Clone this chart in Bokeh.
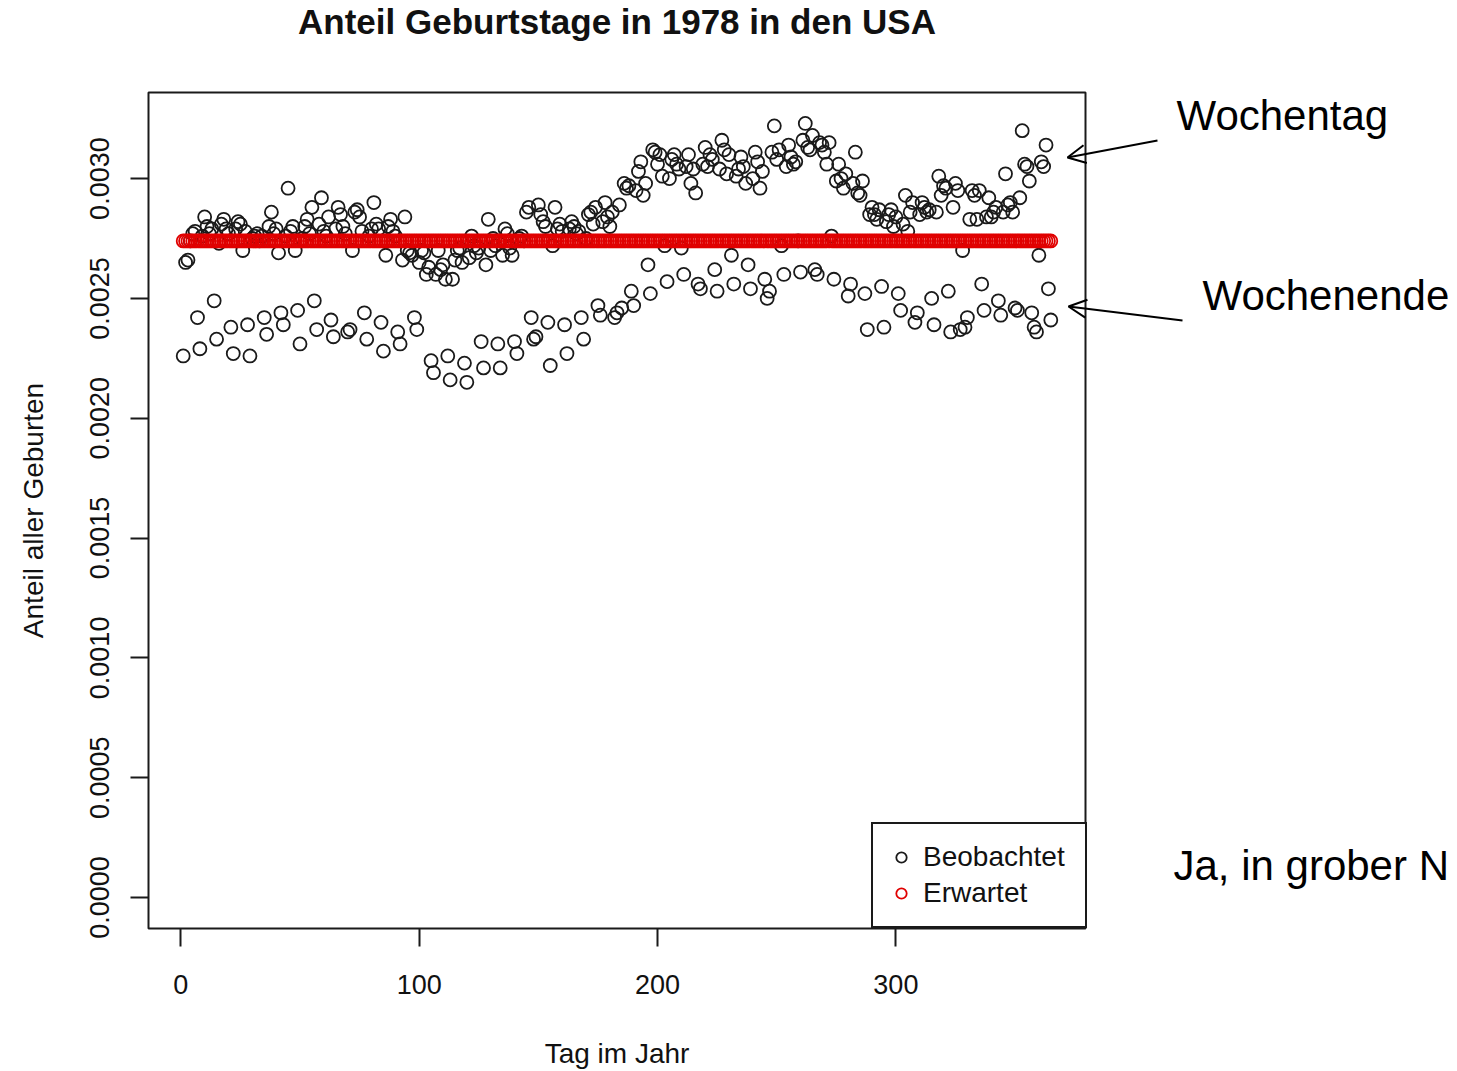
import math
from bokeh.plotting import figure
from bokeh.models import (FixedTicker, PrintfTickFormatter, Range1d, Legend,
                          LegendItem, Label, Arrow, OpenHead, ColumnDataSource,
                          BoxAnnotation)
from bokeh.embed import file_html
from bokeh.resources import INLINE

# ---------------- data ----------------
title_text = "Anteil Geburtstage in 1978 in den USA"
x_label = "Tag im Jahr"
y_label = "Anteil aller Geburten"
x_ticks = [0, 100, 200, 300]
y_ticks = [0.0, 0.0005, 0.0010, 0.0015, 0.0020, 0.0025, 0.0030]
series_names = ["Beobachtet", "Erwartet"]
note_texts = ["Wochentag", "Wochenende", "Ja, in grober N"]

# observed share per day, in millionths; one row per week (Sun .. Sat), 1978-01-01 = Sunday
observed_weeks_ppm = [
    [2260, 2650, 2660, 2740, 2770, 2780, 2420],
    [2290, 2760, 2840, 2800, 2770, 2790, 2490],
    [2330, 2730, 2810, 2830, 2790, 2770, 2380],
    [2270, 2790, 2820, 2810, 2700, 2780, 2390],
    [2260, 2750, 2760, 2770, 2740, 2760, 2420],
    [2350, 2800, 2860, 2770, 2790, 2690, 2440],
    [2390, 2760, 2960, 2780, 2800, 2700, 2450],
    [2310, 2750, 2800, 2830, 2770, 2880, 2490],
    [2370, 2810, 2920, 2780, 2760, 2840, 2410],
    [2340, 2790, 2880, 2850, 2800, 2770, 2360],
    [2370, 2700, 2860, 2870, 2840, 2780, 2440],
    [2330, 2760, 2790, 2900, 2810, 2790, 2400],
    [2280, 2680, 2800, 2830, 2780, 2760, 2360],
    [2310, 2660, 2840, 2700, 2690, 2680, 2420],
    [2370, 2650, 2700, 2690, 2600, 2630, 2240],
    [2190, 2600, 2700, 2620, 2640, 2580, 2260],
    [2160, 2580, 2660, 2700, 2710, 2650, 2230],
    [2150, 2670, 2760, 2720, 2690, 2710, 2320],
    [2210, 2640, 2830, 2700, 2750, 2720, 2310],
    [2210, 2680, 2790, 2770, 2710, 2680, 2320],
    [2270, 2750, 2760, 2740, 2860, 2880, 2420],
    [2330, 2340, 2890, 2850, 2820, 2800, 2400],
    [2220, 2720, 2880, 2790, 2810, 2780, 2390],
    [2270, 2790, 2820, 2800, 2770, 2780, 2420],
    [2330, 2750, 2850, 2860, 2810, 2880, 2470],
    [2430, 2820, 2900, 2840, 2800, 2860, 2420],
    [2440, 2890, 2460, 2980, 2960, 2970, 2530],
    [2470, 2950, 3030, 3070, 2930, 2980, 2640],
    [2520, 3120, 3110, 3060, 3100, 3010, 2720],
    [2570, 3000, 3080, 3100, 3060, 3040, 2710],
    [2600, 3050, 3100, 2980, 3040, 2940, 2560],
    [2540, 3060, 3130, 3050, 3100, 3080, 2620],
    [2530, 3040, 3160, 3120, 3020, 3100, 2680],
    [2560, 3010, 3040, 3090, 3050, 2980, 2640],
    [2540, 3000, 3110, 3070, 2960, 3030, 2580],
    [2500, 2530, 3110, 3220, 3080, 3120, 2720],
    [2600, 3050, 3140, 3090, 3060, 3070, 2740],
    [2610, 3160, 3230, 3130, 3120, 3180, 2620],
    [2600, 3150, 3140, 3110, 3060, 3150, 2760],
    [2580, 2990, 3060, 3000, 2960, 3020, 2510],
    [2560, 2980, 3110, 2940, 2930, 2990, 2520],
    [2370, 2850, 2880, 2850, 2830, 2870, 2550],
    [2380, 2820, 2850, 2870, 2800, 2840, 2520],
    [2450, 2810, 2930, 2780, 2860, 2900, 2400],
    [2440, 2850, 2900, 2880, 2860, 2870, 2500],
    [2390, 2860, 3010, 2930, 2970, 2960, 2530],
    [2360, 2880, 2980, 2950, 2370, 2700, 2380],
    [2420, 2830, 2950, 2930, 2830, 2950, 2560],
    [2450, 2840, 2920, 2840, 2860, 2880, 2490],
    [2430, 2860, 3020, 2890, 2900, 2860, 2460],
    [2450, 2920, 3200, 3060, 3050, 2990, 2440],
    [2380, 2360, 2680, 3070, 3050, 3140, 2540],
    [2410],
]
expected_share = 1 / 365

observed = [v / 1e6 for week in observed_weeks_ppm for v in week]
days = list(range(1, len(observed) + 1))
expected = [expected_share] * len(days)

# ---------------- layout ----------------
W, H = 1455, 1069
BL, BR, BT, BB = 148, 1085, 92, 928     # R plot box (pixels); bokeh frame covers the whole canvas

# R-style 4 % range extension
x_lo, x_hi = min(days), max(days)
dx = 0.04 * (x_hi - x_lo)
y_lo, y_hi = 0.0, max(observed)
dy = 0.04 * (y_hi - y_lo)
rx0, rx1 = x_lo - dx, x_hi + dx
ry0, ry1 = y_lo - dy, y_hi + dy
sx = (BR - BL) / (rx1 - rx0)
sy = (BB - BT) / (ry1 - ry0)
x_start = rx0 - BL / sx
x_end = x_start + W / sx
y_start = ry0 - (H - BB) / sy
y_end = y_start + H / sy

def xd(px):   # pixel -> data x
    return x_start + px / sx

def yd(py):   # pixel -> data y
    return y_end - py / sy

p = figure(width=W, height=H, output_backend="svg", toolbar_location=None,
           x_range=Range1d(x_start, x_end), y_range=Range1d(y_start, y_end),
           min_border=0, background_fill_color="white", border_fill_color="white")
p.outline_line_color = None
p.grid.visible = False

FONT = "Liberation Sans"
INK = "#1a1a1a"

for ax in (p.xaxis[0], p.yaxis[0]):
    ax.axis_line_color = None
    ax.major_tick_line_color = INK
    ax.major_tick_line_width = 2
    ax.major_tick_out = 18
    ax.major_tick_in = 0
    ax.minor_tick_line_color = None
    ax.major_label_text_font = FONT
    ax.major_label_text_font_size = "27px"
    ax.major_label_text_color = "#111111"

p.xaxis[0].ticker = FixedTicker(ticks=x_ticks)
p.xaxis[0].fixed_location = ry0
p.xaxis[0].major_label_standoff = 28

p.yaxis[0].ticker = FixedTicker(ticks=y_ticks)
p.yaxis[0].fixed_location = rx0
p.yaxis[0].formatter = PrintfTickFormatter(format="%.4f")
p.yaxis[0].major_label_orientation = "vertical"
p.yaxis[0].major_label_standoff = 21

# R plot box
p.add_layout(BoxAnnotation(left=rx0, right=rx1, bottom=ry0, top=ry1,
                           fill_color=None, fill_alpha=0, line_color=INK,
                           line_alpha=1.0, line_width=2))

src = ColumnDataSource(dict(day=days, obs=observed, exp=expected))
r_obs = p.scatter("day", "obs", source=src, marker="circle", size=13,
                  fill_color=None, line_color=INK, line_width=1.8)
r_exp = p.scatter("day", "exp", source=src, marker="circle", size=13,
                  fill_color=None, line_color="#e00000", line_width=1.8)

legend = Legend(items=[LegendItem(label=series_names[0], renderers=[r_obs]),
                       LegendItem(label=series_names[1], renderers=[r_exp])],
                location=(871, H - BB), margin=0, padding=15, spacing=0,
                label_height=36, glyph_height=36, glyph_width=26, label_standoff=9,
                label_width=147,
                label_text_font=FONT, label_text_font_size="28px",
                label_text_color="#111111",
                border_line_color=INK, border_line_width=2, border_line_alpha=1.0,
                background_fill_color="white", background_fill_alpha=1.0)
p.add_layout(legend)

# title and axis titles
p.add_layout(Label(x=(rx0 + rx1) / 2, y=yd(21), text=title_text, text_font=FONT,
                   text_font_size="35px", text_font_style="bold",
                   text_align="center", text_baseline="middle", text_color="#111111"))
p.add_layout(Label(x=(rx0 + rx1) / 2, y=yd(1053), text=x_label, text_font=FONT,
                   text_font_size="28px", text_align="center", text_baseline="middle",
                   text_color="#111111"))
p.add_layout(Label(x=xd(33), y=(ry0 + ry1) / 2, text=y_label, text_font=FONT,
                   text_font_size="28px", text_align="center", text_baseline="middle",
                   angle=math.pi / 2, text_color="#111111"))

# ---------------- annotations (right of the chart) ----------------
note_pos = [(1176, 115), (1202, 295), (1173, 865)]
for txt, (px, py) in zip(note_texts, note_pos):
    p.add_layout(Label(x=xd(px), y=yd(py), text=txt, text_font=FONT,
                       text_font_size="42px", text_baseline="middle",
                       text_align="left", text_color="#000000"))

arrow_pos = [((1157, 140), (1067, 157)), ((1182, 320), (1068, 306))]
for (ax0, ay0), (ax1, ay1) in arrow_pos:
    p.add_layout(Arrow(x_start=xd(ax0), y_start=yd(ay0), x_end=xd(ax1), y_end=yd(ay1),
                       line_width=2, line_color="black",
                       end=OpenHead(size=18, line_width=2, line_color="black")))

open("out.html", "w").write(file_html(p, INLINE))
